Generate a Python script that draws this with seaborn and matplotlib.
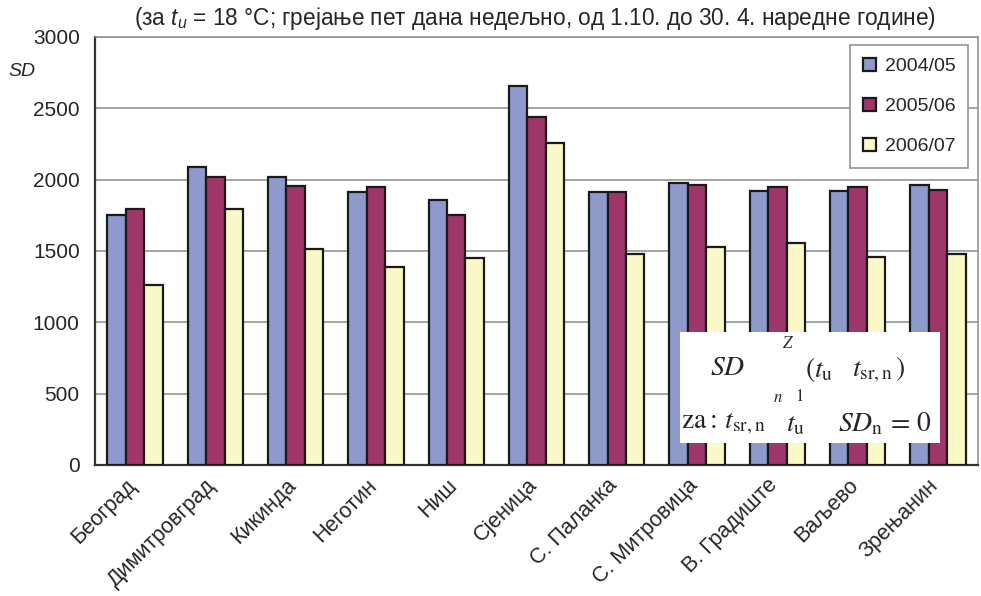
import matplotlib
matplotlib.use("Agg")
import matplotlib.pyplot as plt
from matplotlib.patches import Rectangle
from matplotlib.transforms import ScaledTranslation
import numpy as np
import pandas as pd
import seaborn as sns

cities = ['Београд', 'Димитровград', 'Кикинда', 'Неготин', 'Ниш', 'Сјеница',
          'С. Паланка', 'С. Митровица', 'В. Градиште', 'Ваљево', 'Зрењанин']
years = ['2004/05', '2005/06', '2006/07']
sd_2004 = [1752, 2091, 2021, 1913, 1857, 2656, 1911, 1974, 1923, 1923, 1962]
sd_2005 = [1792, 2021, 1955, 1951, 1750, 2441, 1911, 1962, 1951, 1951, 1930]
sd_2006 = [1261, 1792, 1514, 1385, 1448, 2254, 1476, 1530, 1553, 1460, 1478]
colors = ['#8e99cc', '#a0356a', '#fbf8c8']

df = pd.DataFrame({
    'city': cities * 3,
    'year': [years[0]] * 11 + [years[1]] * 11 + [years[2]] * 11,
    'sd': sd_2004 + sd_2005 + sd_2006,
})

sns.set_style("white")
plt.rcParams['font.family'] = ['Liberation Sans', 'DejaVu Sans']
plt.rcParams['mathtext.fontset'] = 'custom'
plt.rcParams['mathtext.it'] = 'Liberation Sans:italic'
plt.rcParams['mathtext.rm'] = 'Liberation Sans'

W, H = 981, 596
fig = plt.figure(figsize=(W / 100, H / 100), dpi=100)
ax = fig.add_axes([95 / W, 1 - 465 / H, 883 / W, 428 / H])


def px(x, y):
    return x / W, 1 - y / H


sns.barplot(data=df, x='city', y='sd', hue='year', palette=colors, ax=ax,
            width=0.69, gap=0, edgecolor='#1a1a1a', linewidth=1.6,
            saturation=1, zorder=3)

ax.set_ylim(0, 3000)
ax.set_xlim(-0.5, 10.5)
ax.set_yticks(np.arange(0, 3001, 500))
ax.yaxis.grid(True, color='#8c8c8c', linewidth=1.1, zorder=0)
ax.set_axisbelow(True)
ax.set_xlabel('')
ax.set_ylabel('')

ax.set_xticks(np.arange(-0.5, 11, 1), minor=True)
ax.tick_params(axis='x', which='major', length=0, labelsize=15.5, pad=7)
ax.tick_params(axis='x', which='minor', length=8, width=1.1, color='#444444')
ax.tick_params(axis='y', length=8, width=1.1, color='#444444', labelsize=15, pad=3)
shift = ScaledTranslation(-10 / 100, 0, fig.dpi_scale_trans)
for lab in ax.get_xticklabels():
    lab.set_rotation(45)
    lab.set_ha('right')
    lab.set_rotation_mode('anchor')
    lab.set_transform(lab.get_transform() + shift)

for side in ['left', 'bottom']:
    ax.spines[side].set_color('#333333')
    ax.spines[side].set_linewidth(1.6)
for side in ['top', 'right']:
    ax.spines[side].set_color('#8c8c8c')
    ax.spines[side].set_linewidth(1.1)

leg = ax.legend(loc='upper right', bbox_to_anchor=(0.989, 0.981), fontsize=14,
                frameon=True, fancybox=False, edgecolor='#8c8c8c',
                handlelength=0.7, handleheight=0.7, handletextpad=0.45,
                labelspacing=1.15, borderpad=0.65, borderaxespad=0)
leg.get_frame().set_linewidth(1.1)
leg.get_frame().set_alpha(1)

fig.text(*px(535, 18),
         r'(за $t_u$ = 18 °C; грејање пет дана недељно, од 1.10. до 30. 4. наредне године)',
         ha='center', va='center', fontsize=16.3)
fig.text(*px(22, 71), 'SD', style='italic', ha='center', va='center', fontsize=14)

# formula box
fig.add_artist(Rectangle(px(680, 443), 260 / W, 111 / H, transform=fig.transFigure,
                         facecolor='white', edgecolor='none', zorder=10))
fkw = dict(math_fontfamily='stix', zorder=11, va='center')
fig.text(*px(710, 368), r'$SD$', fontsize=20, ha='left', **fkw)
fig.text(*px(788, 343), r'$Z$', fontsize=12, ha='center', **fkw)
fig.text(*px(805, 370), r'$(t_{\mathrm{u}}$', fontsize=20, ha='left', **fkw)
fig.text(*px(852, 370), r'$t_{\mathrm{sr,n}}\,)$', fontsize=20, ha='left', **fkw)
fig.text(*px(773, 398), r'$n$', fontsize=12, ha='left', **fkw)
fig.text(*px(795, 396), r'$\mathrm{1}$', fontsize=12, ha='left', **fkw)
fig.text(*px(681, 424), r'$\mathrm{za{:}}\,t_{\mathrm{sr,n}}$', fontsize=20, ha='left', **fkw)
fig.text(*px(786, 424), r'$t_{\mathrm{u}}$', fontsize=20, ha='left', **fkw)
fig.text(*px(838, 424), r'$SD_{\mathrm{n}}\,=\,\mathrm{0}$', fontsize=20, ha='left', **fkw)

fig.savefig('out.png', dpi=100)
